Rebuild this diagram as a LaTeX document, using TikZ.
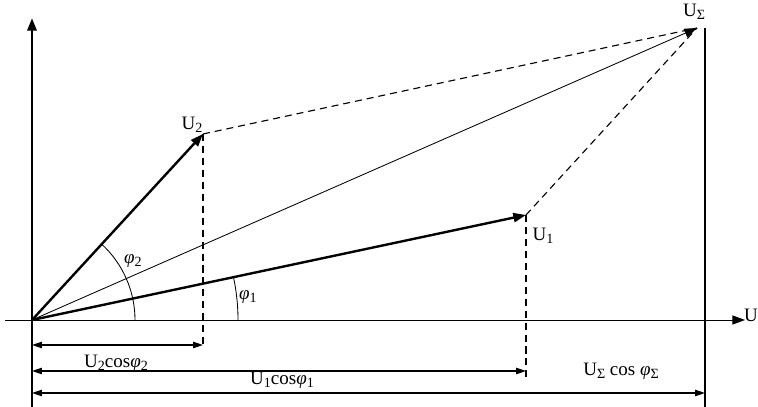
\documentclass[tikz,border=0pt]{standalone}
\usepackage{fontspec}
\setmainfont{Liberation Serif}
\usetikzlibrary{arrows.meta,positioning,calc}
\newcommand{\ix}[1]{\raisebox{-0.35ex}{\fontsize{10}{11}\selectfont #1}}

\begin{document}
\begin{tikzpicture}[x=0.025cm,y=0.025cm,
  font=\fontsize{13.5}{15}\selectfont,
  tip/.style={-{Triangle[length=9pt,width=6.5pt]}},
  vec/.style={tip,line width=1.7pt},
  dimarr/.style={{Triangle[length=7pt,width=4.5pt]}-{Triangle[length=7pt,width=4.5pt]},line width=0.9pt},
  aux/.style={dashed,line width=0.8pt,dash pattern=on 5pt off 3.5pt}]
  \useasboundingbox (0,0) rectangle (758,407);

  % Achsen
  \coordinate (O) at (32,87);
  \coordinate (ybot) at (32,0);
  \coordinate (ytop) at (32,389);
  \coordinate (xleft) at (5,87);
  \coordinate (xright) at (745,87);
  \draw[tip,line width=2pt] (ybot) -- (ytop);
  \draw[tip,line width=0.6pt] (xleft) -- (xright);
  \node[anchor=east,inner sep=0pt] (xlab) at (758,92) {U};

  % Zeiger
  \coordinate (U2) at (203,273);
  \coordinate (U1) at (526,192);
  \coordinate (US) at (697,379);
  \draw[vec] (O) -- (U2);
  \draw[vec] (O) -- (U1);
  \draw[tip,line width=0.6pt] (O) -- (US);
  \node (U2lab) at (192,282) {U\ix{2}};
  \node (U1lab) at (543,171) {U\ix{1}};
  \node (USlab) at (694,395) {U\ix{Σ}};

  % Hilfslinien
  \coordinate (U2foot) at (203,58);
  \coordinate (U1foot) at (526,30);
  \coordinate (Rtop) at (705,379);
  \coordinate (Rbot) at (705,0);
  \draw[aux] (U2) -- (US);
  \draw[aux] (U1) -- (US);
  \draw[aux] (U2) -- (U2foot);
  \draw[aux] (U1) -- (U1foot);
  \draw[line width=1.6pt] (Rtop) -- (Rbot);

  % Winkel
  \draw[line width=0.6pt] (O) ++(0:103) arc[start angle=0,end angle=47.4,radius=103];
  \draw[line width=0.6pt] (O) ++(0:206) arc[start angle=0,end angle=12,radius=206];
  \node (phi2) at (133,146) {\textit{φ}\ix{2}};
  \node (phi1) at (248,110) {\textit{φ}\ix{1}};

  % Projektionen
  \draw[dimarr] (32,62) -- (203,62);
  \draw[dimarr] (32,36) -- (526,36);
  \draw[dimarr] (32,14) -- (705,14);
  \node (d2) at (116,44) {U\ix{2}cos\textit{φ}\ix{2}};
  \node (d1) at (282,27) {U\ix{1}cos\textit{φ}\ix{1}};
  \node (dS) at (621,36) {U\ix{Σ} cos \textit{φ}\ix{Σ}};
\end{tikzpicture}
\end{document}
